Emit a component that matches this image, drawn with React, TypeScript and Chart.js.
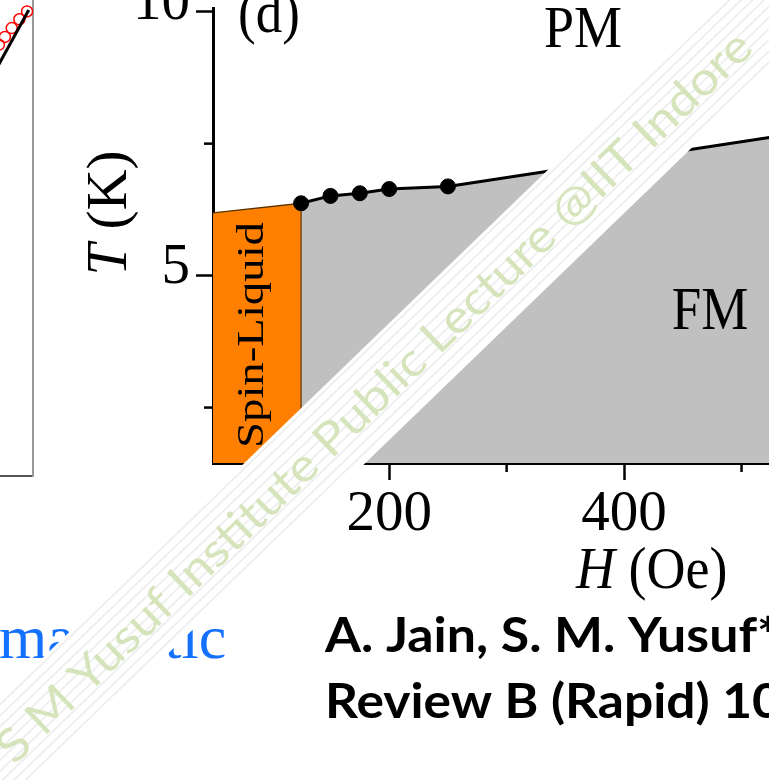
import React, { useEffect, useRef } from "react";
import { Chart, registerables } from "chart.js";

Chart.register(...registerables);

const SERIF = "'Liberation Serif', 'Times New Roman', Times, serif";

// ---------- Panel (d): T–H phase diagram ----------
const markerH = [125, 150, 175, 200, 250];
const markerT = [6.37, 6.51, 6.56, 6.64, 6.69];
const boundaryH = [125, 150, 175, 200, 250, 560];
const boundaryT = [6.37, 6.51, 6.56, 6.64, 6.69, 7.74];
const spinLiquidH = [50, 125, 125];
const spinLiquidT = [6.19, 6.37, 1.45];
const hMajorTicks = [200, 400];
const hMinorTicks = [100, 300, 500];
const tMajorTicks = [5, 10];
const tMinorTicks = [2.5, 7.5];
const hLimits = [50, 560];
const tLimits = [1.45, 10.06];

// ---------- Panel (c) fragment (left edge) ----------
const fitLineX = [80, 99];
const fitLineY = [65.2, 95.3];
const dataX = [90.6, 92.0, 93.4, 95.0, 96.8, 98.6];
const dataY = [87.0, 88.2, 89.8, 91.6, 93.4, 95.0];

const pts = (xs: number[], ys: number[]) => xs.map((x, i) => ({ x, y: ys[i] }));
const serif = (size: number, italic = false) => `${italic ? "italic " : ""}${size}px ${SERIF}`;

function drawStr(
  ctx: CanvasRenderingContext2D,
  text: string,
  x: number,
  y: number,
  font: string,
  opts: { align?: CanvasTextAlign; sy?: number; color?: string } = {}
) {
  ctx.save();
  ctx.font = font;
  ctx.fillStyle = opts.color || "#000";
  ctx.textAlign = opts.align || "left";
  ctx.textBaseline = "alphabetic";
  ctx.translate(x, y);
  ctx.scale(1, opts.sy || 1);
  ctx.fillText(text, 0, 0);
  ctx.restore();
}

function drawMixed(
  ctx: CanvasRenderingContext2D,
  parts: { t: string; italic: boolean }[],
  size: number,
  centered: boolean
) {
  let total = 0;
  const widths = parts.map((p) => {
    ctx.font = serif(size, p.italic);
    const w = ctx.measureText(p.t).width;
    total += w;
    return w;
  });
  let x = centered ? -total / 2 : 0;
  ctx.textAlign = "left";
  ctx.textBaseline = "alphabetic";
  ctx.fillStyle = "#000";
  parts.forEach((p, i) => {
    ctx.font = serif(size, p.italic);
    ctx.fillText(p.t, x, 0);
    x += widths[i];
  });
}

function PhaseChart() {
  const ref = useRef<HTMLCanvasElement>(null);
  useEffect(() => {
    const canvas = ref.current!;
    const annot = {
      id: "annot",
      afterDraw(chart: any) {
        const ctx: CanvasRenderingContext2D = chart.ctx;
        const xs = chart.scales.x;
        const ys = chart.scales.y;
        // minor ticks
        ctx.save();
        ctx.strokeStyle = "#000";
        ctx.lineWidth = 2.5;
        hMinorTicks.forEach((v) => {
          const px = xs.getPixelForValue(v);
          if (px < xs.left || px > xs.right) return;
          ctx.beginPath();
          ctx.moveTo(px, ys.bottom);
          ctx.lineTo(px, ys.bottom + 9);
          ctx.stroke();
        });
        tMinorTicks.forEach((v) => {
          const py = ys.getPixelForValue(v);
          ctx.beginPath();
          ctx.moveTo(xs.left, py);
          ctx.lineTo(xs.left - 9, py);
          ctx.stroke();
        });
        ctx.restore();

        drawStr(ctx, "(d)", 238, 32, serif(53), { sy: 1.1 });
        drawStr(ctx, "PM", 583, 47, serif(54), { align: "center", sy: 1.08 });
        drawStr(ctx, "FM", 710, 329, serif(53), { align: "center", sy: 1.15 });

        // Spin-Liquid (rotated)
        ctx.save();
        ctx.translate(263, 335);
        ctx.rotate(-Math.PI / 2);
        ctx.font = serif(38);
        const w = ctx.measureText("Spin-Liquid").width;
        ctx.scale(226 / w, 1);
        ctx.textAlign = "center";
        ctx.fillStyle = "#000";
        ctx.fillText("Spin-Liquid", 0, 0);
        ctx.restore();

        // y title
        ctx.save();
        ctx.translate(126, 213);
        ctx.rotate(-Math.PI / 2);
        drawMixed(ctx, [{ t: "T", italic: true }, { t: " (K)", italic: false }], 57, true);
        ctx.restore();

        // x title
        ctx.save();
        ctx.translate(576, 588);
        ctx.scale(1, 1.1);
        drawMixed(ctx, [{ t: "H", italic: true }, { t: " (Oe)", italic: false }], 54, false);
        ctx.restore();
      },
    };
    const chart = new Chart(canvas, {
      type: "scatter",
      data: {
        datasets: [
          {
            label: "Spin-Liquid",
            data: pts(spinLiquidH, spinLiquidT),
            showLine: true,
            fill: "start",
            backgroundColor: "#ff8000",
            borderColor: "#5a3200",
            borderWidth: 1.2,
            pointRadius: 0,
            order: 3,
          },
          {
            label: "FM",
            data: pts(boundaryH, boundaryT),
            showLine: true,
            fill: "start",
            backgroundColor: "#c0c0c0",
            borderColor: "#000",
            borderWidth: 3,
            pointRadius: 0,
            order: 4,
          },
          {
            label: "Tc",
            data: pts(markerH, markerT),
            showLine: false,
            pointRadius: 7.5,
            pointBackgroundColor: "#000",
            pointBorderColor: "#000",
            pointBorderWidth: 1,
            order: 1,
          },
        ],
      } as any,
      options: {
        animation: false,
        responsive: false,
        devicePixelRatio: 1,
        events: [],
        layout: { padding: { left: 0, top: 0, right: 18, bottom: 0 } },
        plugins: { legend: { display: false }, tooltip: { enabled: false } },
        scales: {
          x: {
            type: "linear",
            position: "bottom",
            min: hLimits[0],
            max: hLimits[1],
            afterBuildTicks: (s: any) => {
              s.ticks = hMajorTicks.map((v) => ({ value: v }));
            },
            afterFit: (s: any) => {
              s.height = 780 - 463;
              s.paddingLeft = 0;
              s.paddingRight = 0;
            },
            grid: { drawOnChartArea: false, drawTicks: true, tickLength: 17, tickWidth: 2.5, tickColor: "#000" },
            border: { display: true, color: "#000", width: 3 },
            ticks: {
              color: "#000",
              font: { family: SERIF, size: 57 },
              padding: 1,
              maxRotation: 0,
              minRotation: 0,
              autoSkip: false,
              callback: (v: any) => String(v),
            },
          },
          y: {
            type: "linear",
            position: "left",
            min: tLimits[0],
            max: tLimits[1],
            afterBuildTicks: (s: any) => {
              s.ticks = tMajorTicks.map((v) => ({ value: v }));
            },
            afterFit: (s: any) => {
              s.width = 213;
              s.paddingTop = 0;
              s.paddingBottom = 0;
            },
            grid: { drawOnChartArea: false, drawTicks: true, tickLength: 17, tickWidth: 2.5, tickColor: "#000" },
            border: { display: true, color: "#000", width: 3 },
            ticks: {
              color: "#000",
              font: { family: SERIF, size: 57, lineHeight: "16px" } as any,
              padding: 6,
              autoSkip: false,
              callback: (v: any) => [String(v), ""],
            },
          },
        },
      } as any,
      plugins: [annot],
    });
    return () => chart.destroy();
  }, []);
  return (
    <canvas
      ref={ref}
      width={830}
      height={780}
      style={{ position: "absolute", left: 0, top: 0, width: 830, height: 780, display: "block" }}
    />
  );
}

function FragmentChart() {
  const ref = useRef<HTMLCanvasElement>(null);
  useEffect(() => {
    const chart = new Chart(ref.current!, {
      type: "scatter",
      data: {
        datasets: [
          {
            data: pts(fitLineX, fitLineY),
            showLine: true,
            borderColor: "#000",
            borderWidth: 3,
            pointRadius: 0,
          },
          {
            data: pts(dataX, dataY),
            showLine: false,
            pointRadius: 5.5,
            pointBorderColor: "#ff0000",
            pointBackgroundColor: "rgba(0,0,0,0)",
            pointBorderWidth: 1.5,
          },
        ],
      } as any,
      options: {
        animation: false,
        responsive: false,
        devicePixelRatio: 1,
        events: [],
        layout: { padding: { top: 0, left: 0, right: 3, bottom: 3 } },
        plugins: { legend: { display: false }, tooltip: { enabled: false } },
        scales: {
          x: {
            type: "linear",
            min: 0,
            max: 100,
            position: "bottom",
            afterFit: (s: any) => {
              s.height = 0;
              s.paddingLeft = 0;
              s.paddingRight = 0;
            },
            ticks: { display: false },
            grid: { drawOnChartArea: false, drawTicks: false },
            border: { display: true, color: "#555", width: 2 },
          },
          y: {
            type: "linear",
            min: 0,
            max: 100,
            position: "right",
            afterFit: (s: any) => {
              s.width = 0;
              s.paddingTop = 0;
              s.paddingBottom = 0;
            },
            ticks: { display: false },
            grid: { drawOnChartArea: false, drawTicks: false },
            border: { display: true, color: "#999", width: 2 },
          },
        },
      } as any,
    });
    return () => chart.destroy();
  }, []);
  return (
    <canvas
      ref={ref}
      width={440}
      height={503}
      style={{ position: "absolute", left: -400, top: -20, width: 440, height: 503, display: "block" }}
    />
  );
}

function Overlay() {
  const ref = useRef<HTMLCanvasElement>(null);
  useEffect(() => {
    const c = ref.current!;
    const ctx = c.getContext("2d")!;
    ctx.clearRect(0, 0, 769, 780);

    // blue slide word
    ctx.fillStyle = "#1470ff";
    ctx.font = serif(62);
    ctx.textBaseline = "alphabetic";
    ctx.textAlign = "left";
    ctx.fillText("magnetic", -1, 658);

    // citation
    const bold = "700 48px Lato, 'Open Sans', sans-serif";
    const fitLine = (prefix: string, full: string, x: number, y: number, target: number) => {
      ctx.save();
      ctx.font = bold;
      ctx.fillStyle = "#000";
      const w = ctx.measureText(prefix).width;
      ctx.translate(x, y);
      ctx.scale(target / w, 1);
      ctx.fillText(full, 0, 0);
      ctx.restore();
    };
    fitLine("A. Jain, S. M. Yusuf", "A. Jain, S. M. Yusuf*", 325, 652, 432);
    fitLine("Review B (Rapid) 1", "Review B (Rapid) 102", 325, 718, 427);

    // watermark band (rotated 44°)
    const theta = (44 * Math.PI) / 180;
    const bandW = 84;
    ctx.save();
    ctx.translate(0, 699);
    ctx.rotate(-theta);
    ctx.fillStyle = "#fff";
    ctx.fillRect(-200, 0, 1600, bandW);
    ctx.strokeStyle = "#eeeeee";
    ctx.lineWidth = 1.8;
    for (let d = 4; d < bandW - 2; d += 8) {
      ctx.beginPath();
      ctx.moveTo(-200, d);
      ctx.lineTo(1400, d);
      ctx.stroke();
    }
    const wm = "S M Yusuf Institute Public Lecture @IIT Indore";
    ctx.font = "46px Lato, 'Open Sans', sans-serif";
    const ww = ctx.measureText(wm).width;
    ctx.translate(-36, 58);
    ctx.scale(1030 / ww, 1);
    ctx.fillStyle = "#d5e4bb";
    ctx.textAlign = "left";
    ctx.textBaseline = "alphabetic";
    ctx.fillText(wm, 0, 0);
    ctx.restore();
  }, []);
  return (
    <canvas
      ref={ref}
      width={769}
      height={780}
      style={{ position: "absolute", left: 0, top: 0, width: 769, height: 780, display: "block", pointerEvents: "none" }}
    />
  );
}

export default function App() {
  return (
    <div
      style={{
        position: "fixed",
        left: 0,
        top: 0,
        width: 769,
        height: 780,
        overflow: "hidden",
        background: "#fff",
      }}
    >
      <FragmentChart />
      <PhaseChart />
      <Overlay />
    </div>
  );
}
